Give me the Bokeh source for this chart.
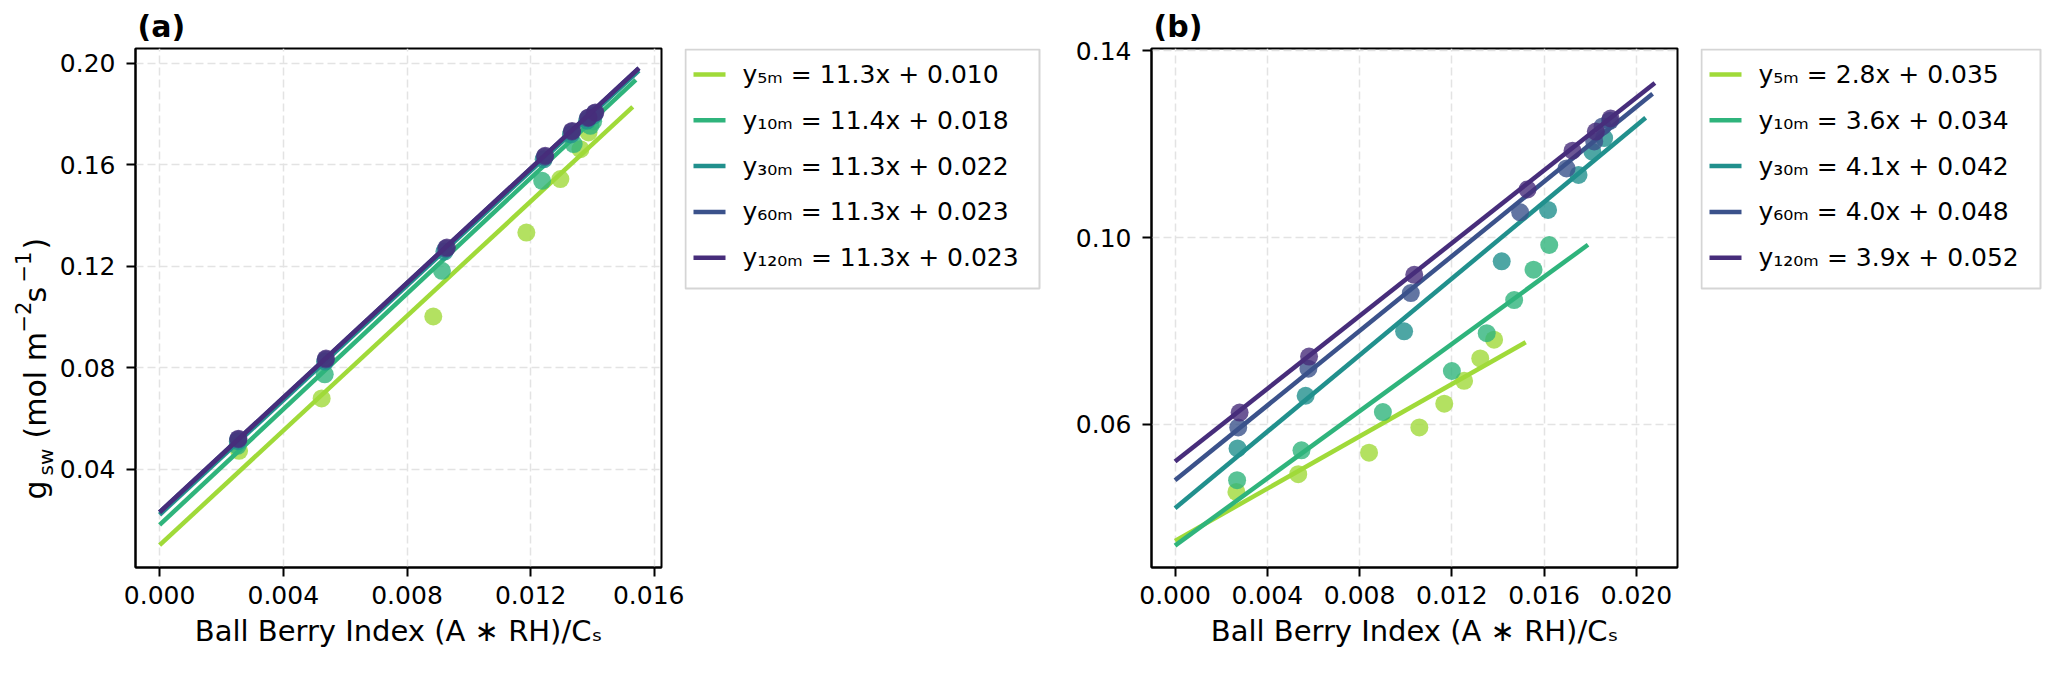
import math

from bokeh.core.properties import value
from bokeh.embed import file_html
from bokeh.layouts import row
from bokeh.models import FixedTicker, PrintfTickFormatter, Range1d
from bokeh.plotting import figure
from bokeh.resources import INLINE

FONT = "DejaVu Sans"

heights = ["5m", "10m", "30m", "60m", "120m"]
sub_labels = ["₅ₘ", "₁₀ₘ", "₃₀ₘ", "₆₀ₘ", "₁₂₀ₘ"]
colors = ["#a0da39", "#2fb47c", "#21908d", "#3b528b", "#472d7b"]

# panel (a)
a_x_5m = [0.00257, 0.00524, 0.00885, 0.01186, 0.01296, 0.01361, 0.01387]
a_y_5m = [0.0472, 0.0679, 0.1002, 0.1333, 0.1544, 0.1662, 0.1728]
a_x_10m = [0.00252, 0.00534, 0.00913, 0.01237, 0.01339, 0.01393, 0.01402]
a_y_10m = [0.0492, 0.0774, 0.1182, 0.1537, 0.1682, 0.1754, 0.1772]
a_x_30m = [0.00253, 0.00535, 0.00921, 0.01242, 0.01330, 0.01382, 0.01404]
a_y_30m = [0.0510, 0.0824, 0.1258, 0.1622, 0.1720, 0.1774, 0.1795]
a_x_60m = [0.00254, 0.00537, 0.00926, 0.01245, 0.01333, 0.01385, 0.01407]
a_y_60m = [0.0517, 0.0832, 0.1270, 0.1632, 0.1731, 0.1784, 0.1804]
a_x_120m = [0.00255, 0.00538, 0.00929, 0.01247, 0.01334, 0.01387, 0.01409]
a_y_120m = [0.0520, 0.0836, 0.1274, 0.1636, 0.1734, 0.1787, 0.1807]
a_slope = [11.3, 11.4, 11.3, 11.3, 11.3]
a_icpt = [0.010, 0.018, 0.022, 0.023, 0.023]
a_line_end = [0.0153, 0.0154, 0.0155, 0.0155, 0.0155]

# panel (b)
b_x_5m = [0.00266, 0.00534, 0.00841, 0.01059, 0.01167, 0.01253, 0.01323, 0.01383]
b_y_5m = [0.0455, 0.0493, 0.0539, 0.0593, 0.0644, 0.0693, 0.0741, 0.0781]
b_x_10m = [0.00269, 0.00548, 0.00901, 0.01200, 0.01351, 0.01470, 0.01554, 0.01622]
b_y_10m = [0.0480, 0.0544, 0.0626, 0.0714, 0.0795, 0.0866, 0.0931, 0.0984]
b_x_30m = [0.00271, 0.00566, 0.00993, 0.01416, 0.01617, 0.01749, 0.01809, 0.01860]
b_y_30m = [0.0548, 0.0661, 0.0799, 0.0949, 0.1059, 0.1134, 0.1184, 0.1213]
b_x_60m = [0.00274, 0.00578, 0.01022, 0.01496, 0.01697, 0.01817, 0.01853, 0.01885]
b_y_60m = [0.0593, 0.0719, 0.0881, 0.1054, 0.1148, 0.1206, 0.1238, 0.1250]
b_x_120m = [0.00280, 0.00581, 0.01037, 0.01528, 0.01723, 0.01824, 0.01888]
b_y_120m = [0.0625, 0.0745, 0.0920, 0.1103, 0.1186, 0.1227, 0.1255]
b_slope = [2.8, 3.6, 4.1, 4.0, 3.9]
b_icpt = [0.035, 0.034, 0.042, 0.048, 0.052]
b_line_end = [0.0152, 0.0179, 0.0204, 0.0207, 0.0208]

a_xticks = [0.000, 0.004, 0.008, 0.012, 0.016]
a_yticks = [0.04, 0.08, 0.12, 0.16, 0.20]
b_xticks = [0.000, 0.004, 0.008, 0.012, 0.016, 0.020]
b_yticks = [0.06, 0.10, 0.14]

# y label of panel (a), in pieces: g_sw (mol m^-2 s^-1)
ylabel_parts = ["g", "sw", "(mol m", "−2", "s", "−1", ")"]

TOP, FRAME_H, BOTTOM = 48, 519, 100
FIG_H = TOP + FRAME_H + BOTTOM


def style_axes(p, xticks, yticks):
    p.xaxis.ticker = FixedTicker(ticks=xticks)
    p.yaxis.ticker = FixedTicker(ticks=yticks)
    p.xaxis.formatter = PrintfTickFormatter(format="%.3f")
    p.yaxis.formatter = PrintfTickFormatter(format="%.2f")
    for ax in p.xaxis + p.yaxis:
        ax.axis_line_width = 2
        ax.axis_line_color = "black"
        ax.major_tick_line_width = 2
        ax.major_tick_out = 9
        ax.major_tick_in = 0
        ax.minor_tick_out = 0
        ax.minor_tick_in = 0
        ax.major_label_text_font = FONT
        ax.major_label_text_font_size = "25px"
        ax.major_label_text_color = "black"
        ax.axis_label_text_font = FONT
        ax.axis_label_text_font_size = "29px"
        ax.axis_label_text_font_style = "normal"
        ax.axis_label_text_color = "black"
    p.xaxis.major_label_standoff = 9
    p.yaxis.major_label_standoff = 11
    p.xaxis.axis_label_standoff = 7
    p.xaxis.axis_label = "Ball Berry Index (A ∗ RH)/Cₛ"
    for g in (p.xgrid, p.ygrid):
        g.grid_line_color = "#e3e3e3"
        g.grid_line_width = 1.5
        g.grid_line_dash = "8 4"
    p.outline_line_color = "black"
    p.outline_line_width = 2
    p.outline_line_alpha = 1


def panel(tag, xs, ys, slopes, icpts, ends, xr, yr, xticks, yticks, border_left):
    p = figure(frame_width=526, frame_height=FRAME_H,
               x_range=Range1d(*xr), y_range=Range1d(*yr),
               min_border_left=border_left, min_border_right=23,
               min_border_top=TOP, min_border_bottom=BOTTOM,
               output_backend="svg", toolbar_location=None)
    style_axes(p, xticks, yticks)

    p.title.text = tag
    p.title.text_font = FONT
    p.title.text_font_size = "30px"
    p.title.text_font_style = "bold"
    p.title.text_color = "black"
    p.title.align = "left"
    p.title.offset = 2
    p.title.standoff = 10

    for i, h in enumerate(heights):
        p.scatter(xs[i], ys[i], size=18, color=colors[i], alpha=0.8, line_width=0)
        lx = [0.0, ends[i]]
        ly = [icpts[i], icpts[i] + slopes[i] * ends[i]]
        p.line(lx, ly, color=colors[i], line_width=4.5)
    return p


def legend_box(width, box_w, slopes, icpts):
    # a strip whose units are pixels, with the legend drawn into it
    f = figure(frame_width=width, frame_height=FRAME_H,
               min_border_left=0, min_border_right=0,
               min_border_top=TOP, min_border_bottom=BOTTOM,
               x_range=Range1d(0, width), y_range=Range1d(0, FRAME_H),
               x_axis_location=None, y_axis_location=None,
               output_backend="svg", toolbar_location=None)
    f.grid.visible = False
    f.outline_line_color = None

    top, bottom = FRAME_H - 1, FRAME_H - 240
    f.quad(left=1, right=box_w, top=top, bottom=bottom,
           fill_color="white", line_color="#d5d5d5", line_width=2)
    labels = ["y%s = %.1fx + %.3f" % (sub_labels[i], slopes[i], icpts[i])
              for i in range(len(heights))]
    rows = [top - 25 - 45.8 * i for i in range(len(heights))]
    f.segment(x0=9, x1=41, y0=rows, y1=rows, color=colors, line_width=4.5)
    f.text(x=58, y=rows, text=labels, text_font=value(FONT),
           text_font_size="25px", text_baseline="middle", text_align="left",
           text_color="black")
    return f


# narrow strip that holds the y label of panel (a); one unit = one pixel
pl = figure(frame_width=56, frame_height=FIG_H, min_border=0,
            x_range=Range1d(0, 56), y_range=Range1d(0, FIG_H),
            x_axis_location=None, y_axis_location=None,
            output_backend="svg", toolbar_location=None)
pl.grid.visible = False
pl.outline_line_color = None
pl.text(x=[35, 45, 35, 22, 35, 22, 35],
        y=[216, 240, 277, 383, 413, 433, 466],
        text=ylabel_parts,
        angle=math.pi / 2, text_font=value(FONT),
        text_font_size=["30px", "20px", "30px", "21px", "30px", "21px", "30px"],
        text_baseline="alphabetic", text_align="left", text_color="black")

pa = panel("(a)",
           [a_x_5m, a_x_10m, a_x_30m, a_x_60m, a_x_120m],
           [a_y_5m, a_y_10m, a_y_30m, a_y_60m, a_y_120m],
           a_slope, a_icpt, a_line_end,
           (-0.00078, 0.01623), (0.0012, 0.2059), a_xticks, a_yticks, 78)
la = legend_box(378, 355, a_slope, a_icpt)

pb = panel("(b)",
           [b_x_5m, b_x_10m, b_x_30m, b_x_60m, b_x_120m],
           [b_y_5m, b_y_10m, b_y_30m, b_y_60m, b_y_120m],
           b_slope, b_icpt, b_line_end,
           (-0.00102, 0.02178), (0.0293, 0.1405), b_xticks, b_yticks, 89)
lb = legend_box(351, 340, b_slope, b_icpt)

layout = row(pl, pa, la, pb, lb)
open("out.html", "w").write(file_html(layout, INLINE))
